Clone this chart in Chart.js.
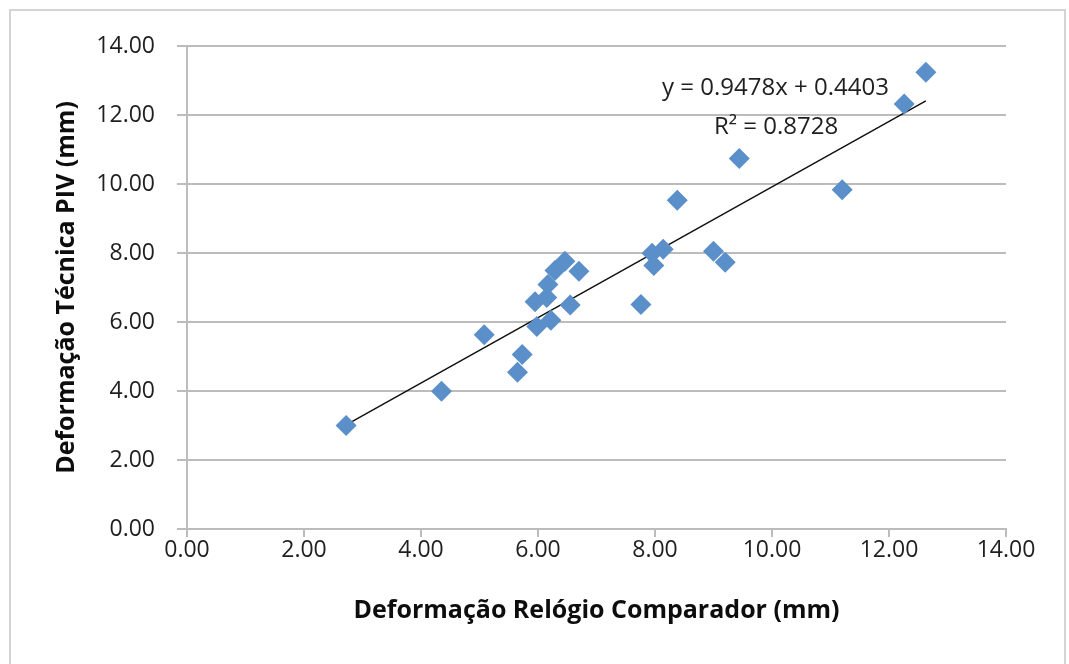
<!DOCTYPE html>
<html>
<head>
<meta charset="utf-8">
<script src="https://cdn.jsdelivr.net/npm/chart.js@4/dist/chart.umd.min.js"></script>
<style>
  html, body { margin: 0; padding: 0; background: #fff; }
  canvas { display: block; }
</style>
</head>
<body>
<canvas id="chart" width="1069" height="664"></canvas>
<script>
// valeurs
var xValues = [2.72, 4.35, 5.08, 5.65, 5.73, 5.95, 5.98, 6.15, 6.17, 6.22, 6.29, 6.46, 6.55, 6.70,
               7.76, 7.95, 7.98, 8.14, 8.38, 9.00, 9.20, 9.44, 11.20, 12.26, 12.63];
var yValues = [3.00, 3.99, 5.63, 4.54, 5.06, 6.59, 5.87, 6.71, 7.09, 6.05, 7.49, 7.76, 6.49, 7.47,
               6.51, 7.99, 7.64, 8.11, 9.53, 8.05, 7.73, 10.74, 9.83, 12.32, 13.24];
var slope = 0.9478;
var intercept = 0.4403;
var rSquared = 0.8728;
var xTitle = 'Deformação Relógio Comparador (mm)';
var yTitle = 'Deformação Técnica PIV (mm)';

(function() {
  var FONT = "'Open Sans', 'Liberation Sans', sans-serif";
  var points = xValues.map(function(x, i) { return {x: x, y: yValues[i]}; });
  var xMin = Math.min.apply(null, xValues);
  var xMax = Math.max.apply(null, xValues);
  var trend = [
    {x: xMin, y: slope * xMin + intercept},
    {x: xMax, y: slope * xMax + intercept}
  ];

  // fond blanc + cadre gris autour du graphique
  var frame = {
    id: 'frame',
    beforeDraw: function(chart) {
      var ctx = chart.ctx;
      ctx.save();
      ctx.fillStyle = '#fff';
      ctx.fillRect(0, 0, chart.width, chart.height);
      ctx.strokeStyle = '#d4d4d4';
      ctx.lineWidth = 2;
      ctx.strokeRect(10, 10, chart.width - 14, chart.height + 20);
      ctx.restore();
    }
  };

  // equation de la courbe de tendance
  var equation = {
    id: 'equation',
    afterDatasetsDraw: function(chart) {
      var ctx = chart.ctx;
      var xs = chart.scales.x, ys = chart.scales.y;
      ctx.save();
      ctx.fillStyle = '#1f1f1f';
      ctx.font = "24px " + FONT;
      ctx.textAlign = 'center';
      ctx.textBaseline = 'middle';
      ctx.fillText('y = ' + slope.toFixed(4) + 'x + ' + intercept.toFixed(4), xs.getPixelForValue(10.06), ys.getPixelForValue(12.77));
      ctx.fillText('R² = ' + rSquared.toFixed(4), xs.getPixelForValue(10.07), ys.getPixelForValue(11.64));
      ctx.restore();
    }
  };

  var gridColor = '#bcbcbc';

  new Chart(document.getElementById('chart').getContext('2d'), {
    type: 'scatter',
    data: {
      datasets: [{
        data: points,
        pointStyle: 'rectRot',
        pointRadius: 10.5,
        pointHoverRadius: 10.5,
        backgroundColor: '#5b8fc9',
        borderColor: '#5b8fc9',
        borderWidth: 0
      }, {
        type: 'line',
        data: trend,
        borderColor: '#111',
        borderWidth: 1.5,
        pointRadius: 0,
        fill: false
      }]
    },
    options: {
      responsive: false,
      animation: false,
      devicePixelRatio: 1,
      layout: { padding: { left: 40, top: 46, right: 63, bottom: 0 } },
      plugins: {
        legend: { display: false },
        tooltip: { enabled: false }
      },
      scales: {
        x: {
          type: 'linear',
          min: 0, max: 14,
          afterFit: function(s) { s.height = 135; },
          border: { color: gridColor, width: 2 },
          grid: { drawOnChartArea: false, drawTicks: true, tickLength: 8, color: gridColor, lineWidth: 2 },
          ticks: {
            stepSize: 2, padding: 0, color: '#1f1f1f',
            font: { family: FONT, size: 23 },
            callback: function(v) { return v.toFixed(2); }
          },
          title: {
            display: true, text: xTitle, color: '#0d0d0d',
            font: { family: FONT, size: 25, weight: 'bold' },
            padding: { top: 0, bottom: 38 }
          }
        },
        y: {
          type: 'linear',
          min: 0, max: 14,
          afterFit: function(s) { s.width = 147; },
          border: { color: gridColor, width: 2 },
          grid: { color: gridColor, lineWidth: 2, tickLength: 10 },
          ticks: {
            stepSize: 2, padding: 22, color: '#1f1f1f',
            font: { family: FONT, size: 23 },
            callback: function(v) { return v.toFixed(2); }
          },
          title: {
            display: true, text: yTitle, color: '#0d0d0d',
            font: { family: FONT, size: 25, weight: 'bold' },
            padding: { top: 12, bottom: 0 }
          }
        }
      }
    },
    plugins: [frame, equation]
  });
})();
</script>
</body>
</html>
